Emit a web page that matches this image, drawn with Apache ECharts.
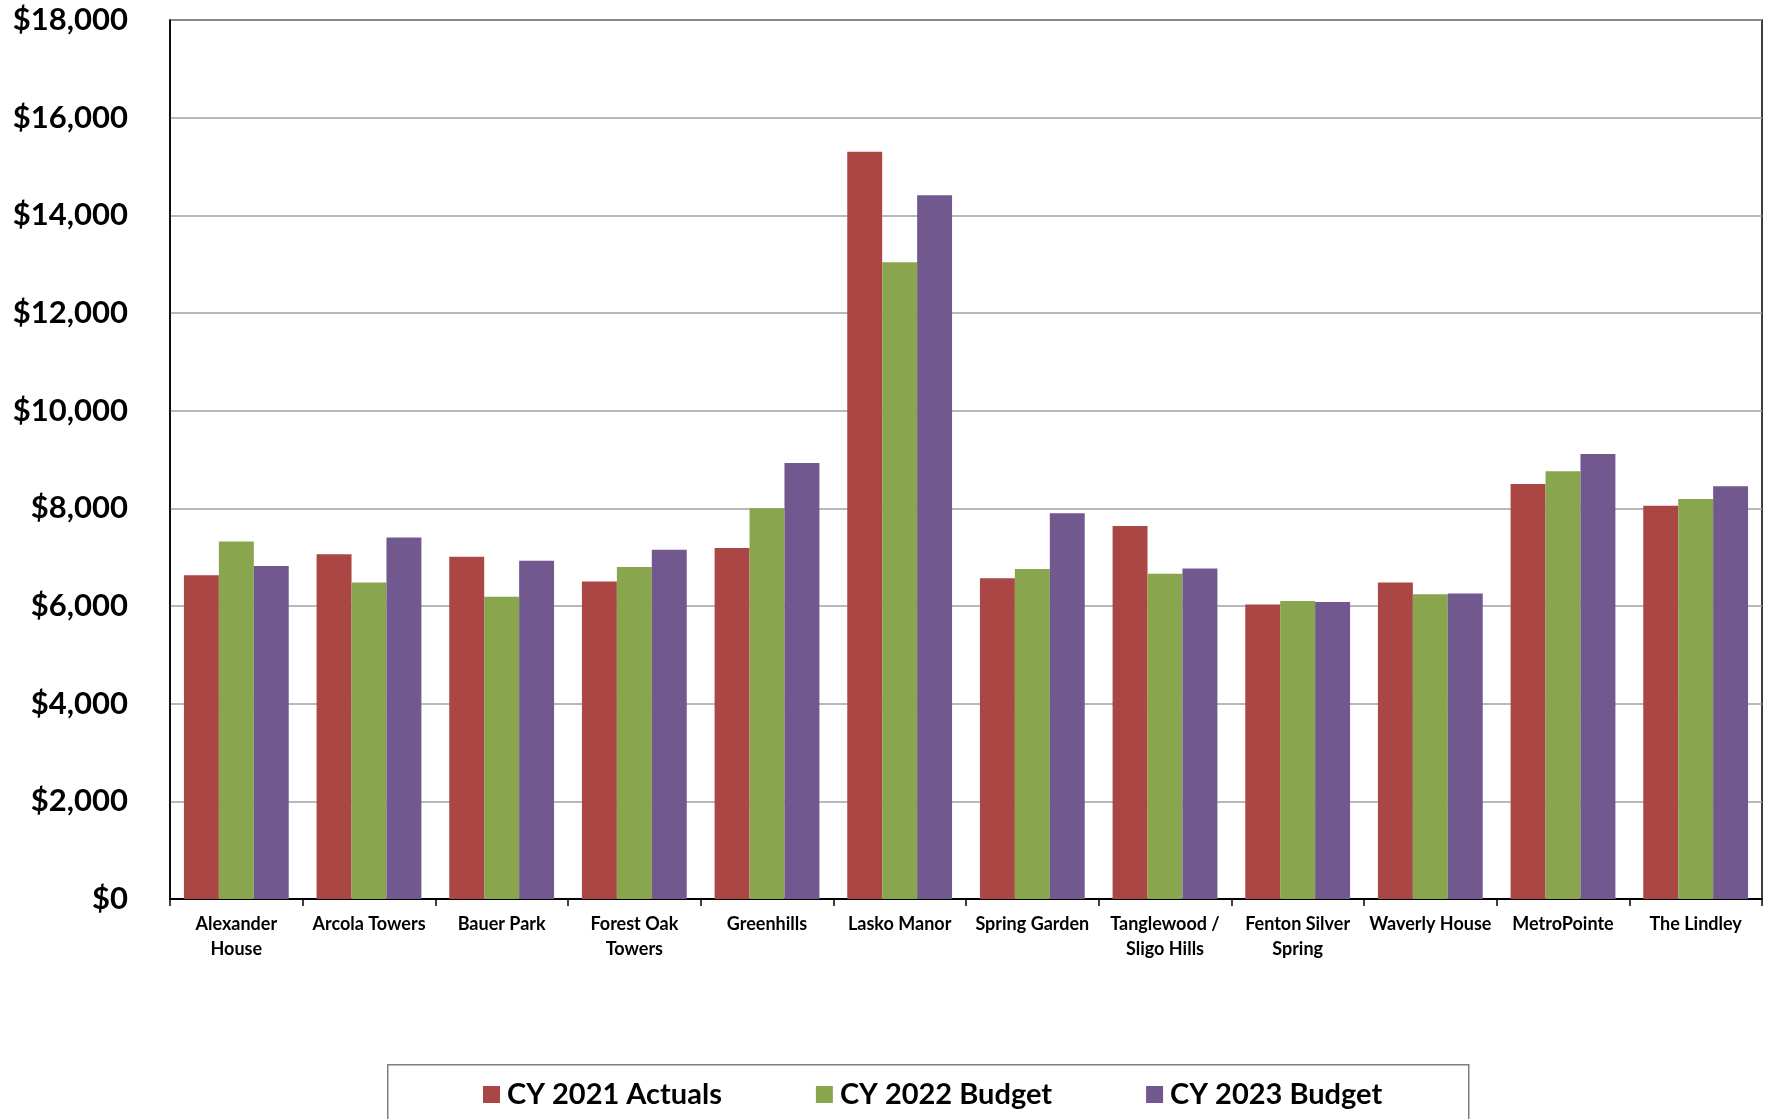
<!DOCTYPE html>
<html>
<head>
<meta charset="utf-8">
<script src="https://cdn.jsdelivr.net/npm/echarts@6/dist/echarts.min.js"></script>
<style>
html,body{margin:0;padding:0;background:#fff;}
#chart{width:1771px;height:1119px;}
</style>
</head>
<body>
<div id="chart"></div>
<script>
const categories = ['Alexander\nHouse','Arcola Towers','Bauer Park','Forest Oak\nTowers','Greenhills','Lasko Manor','Spring Garden','Tanglewood /\nSligo Hills','Fenton Silver\nSpring','Waverly House','MetroPointe','The Lindley'];
const seriesNames = ['CY 2021 Actuals','CY 2022 Budget','CY 2023 Budget'];
const actuals2021 = [6630, 7060, 7010, 6500, 7190, 15300, 6570, 7640, 6030, 6480, 8500, 8055];
const budget2022  = [7320, 6480, 6190, 6800, 8000, 13040, 6760, 6660, 6100, 6240, 8760, 8190];
const budget2023  = [6820, 7405, 6925, 7150, 8930, 14410, 7900, 6770, 6080, 6255, 9115, 8450];
const yTicks = {min: 0, max: 18000, interval: 2000};
const colors = ['#AA4643', '#89A54E', '#71588F'];

const chart = echarts.init(document.getElementById('chart'));
const FONT = 'Lato';
const fmt = v => '$' + v.toLocaleString('en-US');

chart.setOption({
  animation: false,
  backgroundColor: '#ffffff',
  color: colors,
  grid: {left: 170, right: 9, top: 20, bottom: 220, show: true, borderColor: '#000', borderWidth: 1.5, backgroundColor: 'transparent'},
  graphic: [{
    type: 'rect', left: 387, top: 1064, z: 0,
    shape: {width: 1081, height: 80},
    style: {fill: '#fff', stroke: '#7f7f7f', lineWidth: 1.5}
  }],
  legend: {
    left: 478, top: 1075, z: 10,
    itemWidth: 17, itemHeight: 17, itemGap: 94,
    icon: 'rect',
    textStyle: {fontFamily: FONT, fontWeight: 'bold', fontSize: 29, color: '#000', padding: [0,0,0,2]},
    data: seriesNames
  },
  xAxis: {
    type: 'category',
    data: categories,
    axisLine: {lineStyle: {color: '#000', width: 2}},
    axisTick: {show: true, length: 7, lineStyle: {color: '#000', width: 1.5}},
    axisLabel: {fontFamily: FONT, fontWeight: 'bold', fontSize: 18, color: '#000', margin: 13, lineHeight: 25, interval: 0}
  },
  yAxis: {
    type: 'value',
    min: yTicks.min, max: yTicks.max, interval: yTicks.interval,
    axisLine: {show: true, lineStyle: {color: '#000', width: 1.5}},
    axisTick: {show: false},
    splitLine: {lineStyle: {color: '#a0a0a0', width: 1.5}},
    axisLabel: {fontFamily: FONT, fontWeight: 'bold', fontSize: 31, color: '#000', margin: 42, formatter: fmt}
  },
  series: [actuals2021, budget2022, budget2023].map((d, i) => ({
    name: seriesNames[i],
    type: 'bar',
    data: d,
    barGap: '0%',
    barCategoryGap: '21%',
    itemStyle: {color: colors[i]}
  }))
});
</script>
</body>
</html>
